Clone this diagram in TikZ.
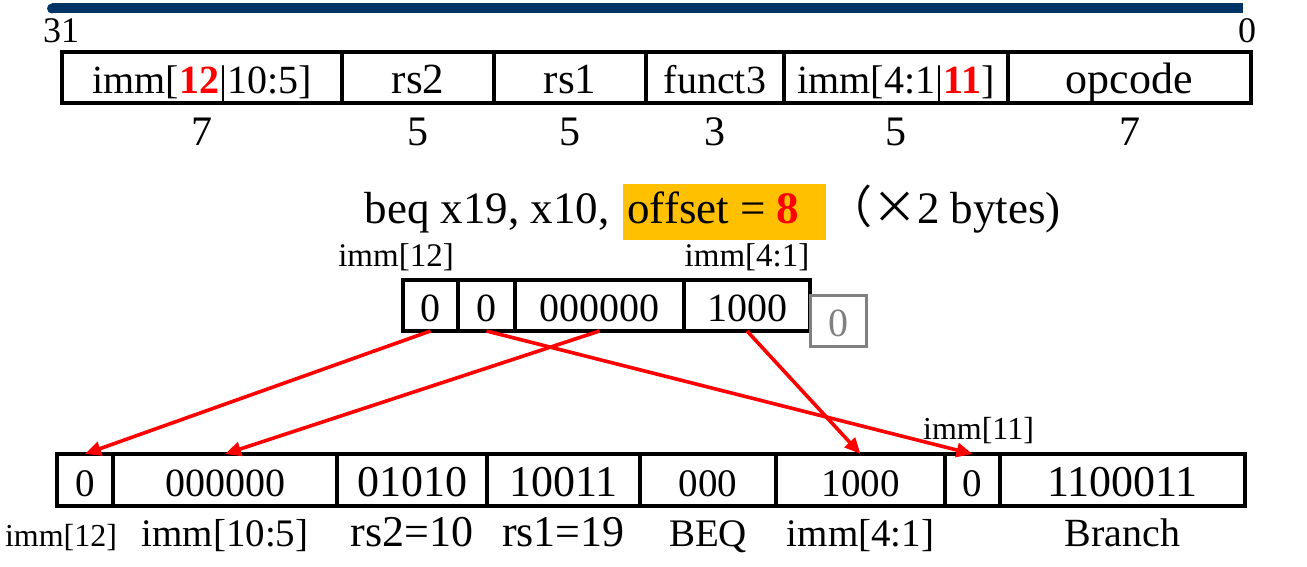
\documentclass[tikz,border=0pt]{standalone}
\usepackage{fontspec}
\setmainfont{Liberation Serif}
\newfontfamily\cjkfont{Noto Sans CJK SC}
\usetikzlibrary{arrows.meta,positioning}

\definecolor{barblue}{RGB}{0,51,102}
\definecolor{hlorange}{RGB}{255,192,0}
\definecolor{boxgray}{RGB}{128,128,128}
\newcommand{\fsz}[1]{\fontsize{#1}{#1}\selectfont}

\begin{document}
\begin{tikzpicture}[
    field/.style={draw,line width=2pt,outer sep=0pt,inner sep=0pt,minimum height=25.5pt,text height=16pt,text depth=0pt,font=\fsz{20}},
    lbl/.style={inner sep=0pt,text height=14pt,text depth=4pt},
    post/.style={-{Triangle[length=8pt,width=7pt]},line width=1.8pt,red}
    ]
\useasboundingbox (0,0) rectangle (653.5pt,-283.5pt);

% bit range
\coordinate (barL) at (26pt,-4.25pt);
\coordinate (barR) at (621.5pt,-4.25pt);
\fill[barblue] (barL) circle (2.5pt);
\draw[barblue,line width=5pt] (barL) -- (barR);
\node[font=\fsz{18},anchor=base,inner sep=0pt] (msb) at (30.5pt,-21.5pt) {31};
\node[font=\fsz{18},anchor=base,inner sep=0pt] (lsb) at (623.5pt,-21.5pt) {0};

% B-type format
\node[field,minimum width=140pt,anchor=north west] (t1) at (31pt,-26pt) {imm[{\bfseries\color{red}12}|10:5]};
\node[field,minimum width=76pt,right=0pt of t1,font=\fsz{21.5}] (t2) {rs2};
\node[field,minimum width=76pt,right=0pt of t2,font=\fsz{21.5}] (t3) {rs1};
\node[field,minimum width=69pt,right=0pt of t3] (t4) {funct3};
\node[field,minimum width=112pt,right=0pt of t4] (t5) {imm[4:1|{\bfseries\color{red}11}]};
\node[field,minimum width=121.5pt,right=0pt of t5,font=\fsz{22}] (t6) {opcode};

\foreach \f/\w in {t1/7,t2/5,t3/5,t4/3,t5/5,t6/7}
  \node[lbl,text height=15pt,text depth=0pt,font=\fsz{21},below=6pt of \f] (w\f) {\w};

% instruction
\node[fill=hlorange,inner xsep=2pt,inner ysep=0pt,text height=19.5pt,text depth=8.5pt,anchor=base west,font=\fsz{22.5}] (off) at (311.5pt,-111.5pt) {offset = {\bfseries\color{red}8}\kern11.5pt};
\node[anchor=base east,font=\fsz{22.5},inner sep=0pt] (beq) at ([xshift=-6.5pt]off.base west) {beq x19, x10,};
\node[anchor=base west,font=\fsz{22.5},inner sep=0pt] (unit) at (off.base east) {{\cjkfont （×}2 bytes)};

% offset bits
\node[field,minimum width=27.5pt,anchor=north west] (m1) at (201.5pt,-140pt) {0};
\node[field,minimum width=28.5pt,right=0pt of m1] (m2) {0};
\node[field,minimum width=84.5pt,right=0pt of m2] (m3) {000000};
\node[field,minimum width=63pt,right=0pt of m3] (m4) {1000};
\node[field,draw=boxgray,line width=1.5pt,text=boxgray,minimum width=28pt,anchor=north west] (pad) at ([yshift=-7.5pt]m4.north east) {0};

\node[lbl,font=\fsz{16.5},above=2.5pt of m1.north west,xshift=-3.5pt] (i12) {imm[12]};
\node[lbl,font=\fsz{16.5},above=2.5pt of m4] (i41) {imm[4:1]};

% encoded instruction
\node[field,minimum width=28pt,minimum height=26pt,anchor=north west,font=\fsz{19.5}] (b1) at (28.5pt,-227pt) {0};
\node[field,minimum width=112pt,minimum height=26pt,right=0pt of b1,font=\fsz{20}] (b2) {000000};
\node[field,minimum width=75pt,minimum height=26pt,right=0pt of b2,font=\fsz{22}] (b3) {01010};
\node[field,minimum width=76.5pt,minimum height=26pt,right=0pt of b3,font=\fsz{22}] (b4) {10011};
\node[field,minimum width=68pt,minimum height=26pt,right=0pt of b4,font=\fsz{19.5}] (b5) {000};
\node[field,minimum width=84.5pt,minimum height=26pt,right=0pt of b5,font=\fsz{19.5}] (b6) {1000};
\node[field,minimum width=27.5pt,minimum height=26pt,right=0pt of b6,font=\fsz{19.5}] (b7) {0};
\node[field,minimum width=122.5pt,minimum height=26pt,right=0pt of b7,font=\fsz{22}] (b8) {1100011};

\node[lbl,font=\fsz{16},below=6pt of b1,xshift=-12pt] (n1) {imm[12]};
\node[lbl,font=\fsz{19.5},below=6pt of b2] (n2) {imm[10:5]};
\node[lbl,font=\fsz{22},below=6pt of b3] (n3) {rs2=10};
\node[lbl,font=\fsz{22},below=6pt of b4] (n4) {rs1=19};
\node[lbl,font=\fsz{19.5},below=6pt of b5] (n5) {BEQ};
\node[lbl,font=\fsz{19.5},below=6pt of b6] (n6) {imm[4:1]};
\node[lbl,font=\fsz{20},below=6pt of b8] (n8) {Branch};
\node[lbl,font=\fsz{16},above=3pt of b7,xshift=3pt] (n7) {imm[11]};

\draw[post] (m1.south) -- (b1.north);
\draw[post] (m3.south) -- (b2.north);
\draw[post] (m2.south) -- (b7.north);
\draw[post] (m4.south) -- (b6.north);

\end{tikzpicture}
\end{document}
